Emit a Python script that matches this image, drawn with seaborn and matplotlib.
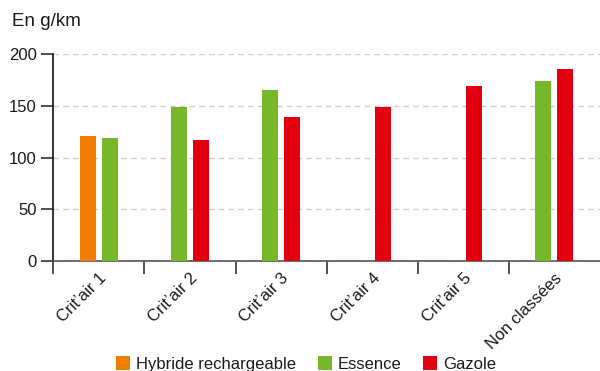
import matplotlib
matplotlib.use("Agg")
import matplotlib.pyplot as plt
import numpy as np
import seaborn as sns

# emissions moyennes par vignette Crit'air (g/km)
categories = ["Crit\u2019air 1", "Crit\u2019air 2", "Crit\u2019air 3",
              "Crit\u2019air 4", "Crit\u2019air 5", "Non class\u00e9es"]
hybride = [121, None, None, None, None, None]
essence = [119, 149, 165, None, None, 174]
gazole = [None, 117, 139, 149, 169, 186]

series = [("Hybride rechargeable", hybride, "#f07d00"),
          ("Essence", essence, "#76b82a"),
          ("Gazole", gazole, "#e2000f")]

sns.set_style("white")
plt.rcParams["font.family"] = ["Liberation Sans", "DejaVu Sans"]

fig = plt.figure(figsize=(6, 3.71), dpi=100)
ax = fig.add_axes([0.0889, 0.2973, 0.9111, 0.5563])

bar_w = 0.176
offset = 0.121
labelled = set()
for i in range(len(categories)):
    present = [s for s in series if s[1][i] is not None]
    for k, (name, vals, color) in enumerate(present):
        slot = k + (2 - len(present))
        xpos = i + (slot - 0.5) * 2 * offset
        lab = name if name not in labelled else None
        labelled.add(name)
        ax.bar(xpos, vals[i], width=bar_w, color=color, label=lab,
               linewidth=0, zorder=3)

ax.set_xlim(-0.5, len(categories) - 0.5)
ax.set_ylim(0, 200)
ax.set_yticks([0, 50, 100, 150, 200])
ax.yaxis.grid(True, linestyle=(0, (4, 3)), color="#d0d0d0", linewidth=1)
ax.xaxis.grid(False)

ax.set_xticks(np.arange(len(categories)) - 0.5)
ax.set_xticklabels([])
ax.set_xticks(np.arange(len(categories)), minor=True)
ax.set_xticklabels(categories, minor=True, rotation=45, ha="right",
                   rotation_mode="anchor", fontsize=12, color="#1a1a1a")
ax.tick_params(axis="x", which="minor", length=0, pad=7)
ax.tick_params(axis="x", which="major", direction="out", length=9,
               width=1.2, color="#333333", bottom=True)
ax.tick_params(axis="y", direction="out", length=9, width=1.2,
               color="#333333", labelsize=12, labelcolor="#1a1a1a",
               left=True, pad=3)

for side in ["top", "right"]:
    ax.spines[side].set_visible(False)
ax.spines["left"].set_color("#111111")
ax.spines["left"].set_linewidth(1.2)
ax.spines["bottom"].set_color("#555555")
ax.spines["bottom"].set_linewidth(1.2)

fig.text(12 / 600, 1 - 26 / 371, "En g/km", fontsize=13.5,
         color="#1a1a1a", ha="left", va="baseline")

leg = fig.legend(loc="center", bbox_to_anchor=(306 / 600, 1 - 364 / 371),
                 ncol=3, frameon=False, fontsize=12, handlelength=0.85,
                 handleheight=0.85, handletextpad=0.35, columnspacing=1.3,
                 borderpad=0)
for t in leg.get_texts():
    t.set_color("#1a1a1a")

fig.savefig("out.png", dpi=100)
